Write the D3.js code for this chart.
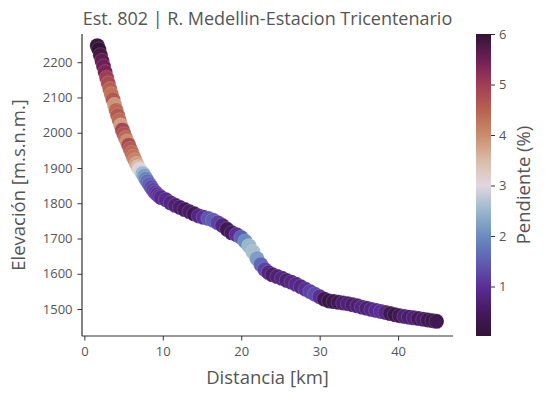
<!DOCTYPE html>
<html>
<head>
<meta charset="utf-8">
<script src="https://cdn.jsdelivr.net/npm/d3@7"></script>
<style>
  body { margin: 0; background: #fff; }
  text { font-family: "Open Sans", Lato, sans-serif; fill: #555; font-weight: 400; }
</style>
</head>
<body>
<svg width="545" height="399"></svg>
<script>
// distance along river (km), elevation (m.s.n.m.), slope (%)
const distancia = [
  1.65, 1.85, 2.05, 2.25, 2.45, 2.65, 2.85, 3.05, 3.25, 3.45, 3.65, 3.85, 4.05, 4.25, 4.45,
  4.65, 4.85, 5.05, 5.25, 5.45, 5.65, 5.85, 6.05, 6.25, 6.45, 6.65, 6.85, 7.05, 7.25, 7.45,
  7.65, 7.85, 8.05, 8.3, 8.55, 8.8, 9.05, 9.3, 9.55, 9.8,
  10.4, 11.0, 11.6, 12.2, 12.8, 13.4, 14.0, 14.6, 15.2, 15.8, 16.4, 17.0, 17.6,
  18.2, 18.8, 19.4, 20.0, 20.5, 21.0, 21.5, 22.0, 22.5, 23.0, 23.5, 24.0, 24.6, 25.2, 25.8,
  26.4, 27.0, 27.6, 28.2, 28.8, 29.4, 30.0, 30.6, 31.2, 31.8, 32.4, 33.0, 33.6, 34.2, 34.8,
  35.4, 36.0, 36.6, 37.2, 37.8, 38.4, 39.0, 39.6, 40.2, 40.8, 41.4, 42.0, 42.6, 43.2, 43.8,
  44.4, 44.9
];
const elevacion = [
  2247, 2236, 2220, 2204, 2188, 2172, 2156, 2140, 2124, 2109, 2094, 2079, 2064, 2049, 2035,
  2021, 2008, 1996, 1985, 1975, 1965, 1954, 1943, 1932, 1922, 1912, 1903, 1896, 1890, 1884,
  1877, 1869, 1862, 1853, 1845, 1837, 1830, 1825, 1820, 1816,
  1810, 1801, 1794, 1788, 1782, 1776, 1770, 1764, 1760, 1757, 1752, 1745, 1737,
  1726, 1716, 1711, 1703, 1692, 1679, 1662, 1643, 1626, 1612, 1603, 1597, 1592, 1587, 1581,
  1576, 1570, 1563, 1556, 1549, 1542, 1535, 1528, 1523, 1521, 1519, 1517, 1515, 1512, 1509,
  1505, 1502, 1499, 1496, 1493, 1490, 1487, 1484, 1481, 1479, 1477, 1475, 1473, 1471, 1469,
  1467, 1465
];
const pendiente = [
  5.9, 6.0, 5.8, 5.6, 5.5, 5.4, 5.0, 4.8, 4.5, 4.3, 4.6, 3.9, 4.4, 4.6, 4.4,
  3.8, 4.9, 4.7, 4.4, 4.0, 4.8, 4.6, 4.4, 4.3, 4.1, 3.8, 3.5, 3.1, 2.9, 2.5,
  2.2, 1.9, 1.7, 1.5, 1.3, 1.2, 1.1, 1.0, 1.0, 0.9,
  0.9, 0.8, 0.7, 0.6, 0.5, 0.6, 0.4, 0.8, 1.0, 1.4, 1.5, 1.2, 0.8,
  0.4, 0.5, 1.0, 1.5, 2.0, 2.5, 2.6, 2.2, 1.6, 1.2, 0.8, 0.6, 0.7, 0.8, 0.7,
  0.8, 0.9, 0.8, 1.0, 1.2, 1.3, 1.0, 0.4, 0.2, 0.3, 0.4, 0.6, 0.7, 0.6, 0.7,
  0.8, 0.7, 0.8, 0.9, 1.0, 0.8, 0.4, 0.2, 0.4, 0.7, 0.6, 0.7, 0.5, 0.6, 0.4,
  0.3, 0.35
];

const xTicks = [0, 10, 20, 30, 40];
const yTicks = [1500, 1600, 1700, 1800, 1900, 2000, 2100, 2200];
const cTicks = [1, 2, 3, 4, 5, 6];

// twilight_shifted look-alike stops
const cmapVals = [0.02, 0.5, 1.0, 1.5, 2.0, 2.5, 3.0, 3.5, 4.0, 4.5, 5.0, 5.5, 6.0];
const cmapCols = ["#2f1436", "#46195e", "#5a2e98", "#5e5fb3", "#6a8cc0", "#9ab7cb", "#e1d8e1",
  "#d9bba9", "#c98d6c", "#b8614f", "#a03d56", "#6e1f55", "#2f1436"];

const data = distancia.map((d, i) => ({ x: d, y: elevacion[i], s: pendiente[i] }));

const svg = d3.select("svg");
const mLeft = 82, mRight = 453, mTop = 34, mBottom = 336;

const x = d3.scaleLinear().domain([-0.3, 47.0]).range([mLeft, mRight]);
const y = d3.scaleLinear().domain([1423.5, 2280]).range([mBottom, mTop]);
const color = d3.scaleLinear().domain(cmapVals).range(cmapCols);

// points
svg.append("g")
  .selectAll("circle")
  .data(data)
  .join("circle")
  .attr("cx", (d) => x(d.x))
  .attr("cy", (d) => y(d.y))
  .attr("r", 7.5)
  .style("fill", (d) => color(d.s))
  .style("stroke", "#fff")
  .style("stroke-width", 0.4)
  .style("stroke-opacity", 0.4);

// axes
const xAxis = svg.append("g")
  .attr("transform", `translate(0,${mBottom})`)
  .call(d3.axisBottom(x).tickValues(xTicks).tickSize(4.5).tickPadding(6));
const yAxis = svg.append("g")
  .attr("transform", `translate(${mLeft},0)`)
  .call(d3.axisLeft(y).tickValues(yTicks).tickSize(4.5).tickPadding(5).tickFormat(d3.format("d")));

[xAxis, yAxis].forEach((g) => {
  g.select(".domain").attr("stroke", "#333").attr("stroke-width", 1.2);
  g.selectAll(".tick line").attr("stroke", "#333").attr("stroke-width", 1);
  g.selectAll(".tick text").style("font-size", "13px").style("fill", "#555");
});
xAxis.select(".domain").attr("d", `M${mLeft},0H${mRight}`);
yAxis.select(".domain").attr("d", `M0,${mBottom}V${mTop}`);

// labels
svg.append("text")
  .attr("x", (mLeft + mRight) / 2).attr("y", 25)
  .attr("text-anchor", "middle")
  .style("font-size", "18px")
  .text("Est. 802 | R. Medellin-Estacion Tricentenario");

svg.append("text")
  .attr("x", (mLeft + mRight) / 2).attr("y", 384)
  .attr("text-anchor", "middle")
  .style("font-size", "18.5px")
  .text("Distancia [km]");

svg.append("text")
  .attr("transform", `translate(25,${(mTop + mBottom) / 2}) rotate(-90)`)
  .attr("text-anchor", "middle")
  .style("font-size", "18.5px")
  .text("Elevación [m.s.n.m.]");

// colorbar
const cbX = 476, cbW = 15;
const cScale = d3.scaleLinear().domain([0.02, 6.0]).range([mBottom, mTop]);
const grad = svg.append("defs").append("linearGradient")
  .attr("id", "cb").attr("x1", 0).attr("y1", 1).attr("x2", 0).attr("y2", 0);
d3.range(0, 1.0001, 0.02).forEach((t) => {
  const v = 0.02 + t * (6.0 - 0.02);
  grad.append("stop").attr("offset", t).attr("stop-color", color(v));
});
svg.append("rect")
  .attr("x", cbX).attr("y", mTop).attr("width", cbW).attr("height", mBottom - mTop)
  .attr("fill", "url(#cb)");

const cAxis = svg.append("g")
  .attr("transform", `translate(${cbX + cbW},0)`)
  .call(d3.axisRight(cScale).tickValues(cTicks).tickSize(4).tickPadding(4).tickFormat(d3.format("d")));
cAxis.select(".domain").remove();
cAxis.selectAll(".tick line").attr("stroke", "#333");
cAxis.selectAll(".tick text").style("font-size", "13px").style("fill", "#555");

svg.append("text")
  .attr("transform", `translate(530,${(mTop + mBottom) / 2}) rotate(-90)`)
  .attr("text-anchor", "middle")
  .style("font-size", "18.5px")
  .text("Pendiente (%)");
</script>
</body>
</html>
